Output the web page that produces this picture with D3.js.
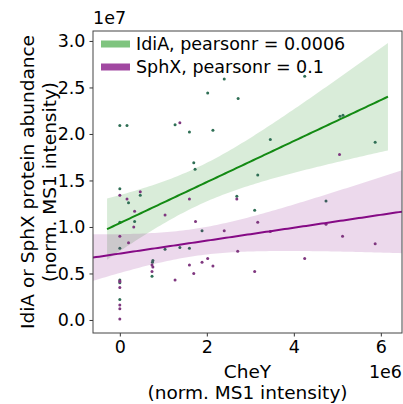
<!DOCTYPE html>
<html><head><meta charset="utf-8">
<script src="https://cdn.jsdelivr.net/npm/d3@7"></script>
<style>body{margin:0;background:#fff}svg{display:block}text{font-family:"DejaVu Sans",sans-serif;fill:#000}</style>
</head><body><svg id="c" width="403" height="404"></svg>
<script>
// CheY (x, units 1e6) and protein abundance (y, units 1e7)
const idiaX = [0,0.165,1.27,1.60,1.70,1.73,2.40,2.02,2.72,2.14,3.46,3.17,4.25,5.06,5.13,5.87,0,0.20,0.47,0.34,0,0,1.04,1.38,1.60,0.76,0.75,0.74,0,0,0,1.89,2.69,3.10,4.74];
const idiaY = [2.09,2.09,2.10,2.02,1.69,1.62,2.59,2.44,2.38,2.04,1.94,1.56,2.62,2.19,2.20,1.91,1.41,1.26,1.34,1.06,1.05,0.77,0.76,0.78,0.77,0.64,0.62,0.47,0.43,0.40,0.22,0.96,1.33,1.18,1.28];
const sphxX = [1.38,5.05,0,0.165,0.47,0.34,0.32,0,0.20,1.60,1.04,1.74,2.69,3.17,2.40,2.71,1.89,2.02,2.14,3.10,4.74,5.12,5.87,4.25,0.74,0.76,0.74,1.60,1.70,1.27,0,0,0,0,0,0,3.46];
const sphxY = [2.12,1.78,1.34,1.30,1.38,1.17,1.00,0.90,0.83,1.30,1.13,1.06,1.30,1.05,0.96,0.74,0.62,0.66,0.58,0.52,1.03,0.90,0.82,0.66,0.59,0.57,0.52,0.59,0.50,0.43,0.35,0.16,0.12,0.01,0.41,0.42,0.95];
const legendLabels = ["IdiA, pearsonr = 0.0006", "SphX, pearsonr = 0.1"];
const xTicks = [0,2,4,6];
const yTicks = [0,0.5,1.0,1.5,2.0,2.5,3.0];

const svg = d3.select("#c");
const L=93, R=402, T=31, B=333;
// x limits as produced by successive autoscaling
const xmin = d3.min(idiaX), xmax = d3.max(idiaX);
const r1 = xmax-xmin, g0 = xmin-0.05*r1, g1 = xmax+0.05*r1;
const r2 = g1-g0, d0 = g0-0.05*r2, d1 = g1+0.05*r2;
const x = d3.scaleLinear().domain([d0,d1]).range([L,R]);
const y = d3.scaleLinear().domain([-0.14,3.107]).range([B,T]);

function fit(xs, ys, lo, hi){
  const n=xs.length, mx=d3.mean(xs), my=d3.mean(ys);
  let sxx=0,sxy=0; for(let i=0;i<n;i++){sxx+=(xs[i]-mx)**2;sxy+=(xs[i]-mx)*(ys[i]-my);}
  const b=sxy/sxx, a=my-b*mx;
  let sse=0; for(let i=0;i<n;i++){sse+=(ys[i]-a-b*xs[i])**2;}
  const s=Math.sqrt(sse/(n-2)), t=2.03;
  return d3.range(101).map(k=>{const xv=lo+(hi-lo)*k/100; const yh=a+b*xv;
    const h=t*s*Math.sqrt(1/n+(xv-mx)**2/sxx); return {x:xv,y:yh,lo:yh-h,hi:yh+h};});
}
const gFit = fit(idiaX,idiaY,g0,g1), pFit = fit(sphxX,sphxY,d0,d1);
svg.append("clipPath").attr("id","cp").append("rect").attr("x",L).attr("y",T).attr("width",R-L).attr("height",B-T);
const plot = svg.append("g").attr("clip-path","url(#cp)");
const area = d3.area().x(d=>x(d.x)).y0(d=>y(d.lo)).y1(d=>y(d.hi));
const line = d3.line().x(d=>x(d.x)).y(d=>y(d.y));

plot.append("path").datum(gFit).attr("d",area).attr("fill","green").attr("fill-opacity",0.15);
plot.selectAll(".gp").data(idiaX).join("circle").attr("cx",(d)=>x(d)).attr("cy",(d,i)=>y(idiaY[i])).attr("r",1.5).attr("fill","#2f6f55");
plot.append("path").datum(gFit).attr("d",line).attr("stroke","#138a13").attr("stroke-width",2).attr("fill","none");
plot.append("path").datum(pFit).attr("d",area).attr("fill","purple").attr("fill-opacity",0.15);
plot.selectAll(".pp").data(sphxX).join("circle").attr("cx",(d)=>x(d)).attr("cy",(d,i)=>y(sphxY[i])).attr("r",1.5).attr("fill","#7f377f");
plot.append("path").datum(pFit).attr("d",line).attr("stroke","#850a85").attr("stroke-width",2).attr("fill","none");

// axes
const fs = 17.5;
const xa = svg.append("g").attr("transform",`translate(0,${B})`).call(d3.axisBottom(x).tickValues(xTicks).tickSize(3.5).tickPadding(4).tickFormat(d3.format("d")));
const ya = svg.append("g").attr("transform",`translate(${L},0)`).call(d3.axisLeft(y).tickValues(yTicks).tickSize(3.5).tickPadding(4).tickFormat(d3.format(".1f")));
[xa,ya].forEach(a=>{a.selectAll("text").attr("font-size",fs).attr("font-family","DejaVu Sans");a.select(".domain").remove();a.selectAll("line").attr("stroke","#333");});
svg.append("rect").attr("x",L).attr("y",T).attr("width",R-L).attr("height",B-T).attr("fill","none").attr("stroke","#444").attr("stroke-width",1);

svg.append("text").attr("x",L).attr("y",T-7).attr("font-size",fs).text("1e7");
svg.append("text").attr("x",R).attr("y",378).attr("text-anchor","end").attr("font-size",fs).text("1e6");
svg.append("text").attr("x",(L+R)/2).attr("y",378).attr("text-anchor","middle").attr("font-size",18.5).text("CheY");
svg.append("text").attr("x",(L+R)/2).attr("y",399).attr("text-anchor","middle").attr("font-size",18.5).text("(norm. MS1 intensity)");
const yl = svg.append("g").attr("transform",`translate(0,${(T+B)/2}) rotate(-90)`);
yl.append("text").attr("x",0).attr("y",34).attr("text-anchor","middle").attr("font-size",18.5).text("IdiA or SphX protein abundance");
yl.append("text").attr("x",0).attr("y",56).attr("text-anchor","middle").attr("font-size",18.5).text("(norm. MS1 intensity)");

// legend
const lc = ["#7fc47f","#a148a1"];
legendLabels.forEach((t,i)=>{
  const yy = 44+i*23;
  svg.append("rect").attr("x",101).attr("y",yy-3.5).attr("width",29).attr("height",7).attr("fill",lc[i]);
  svg.append("text").attr("x",136).attr("y",yy+6).attr("font-size",fs).text(t);
});
</script></body></html>
